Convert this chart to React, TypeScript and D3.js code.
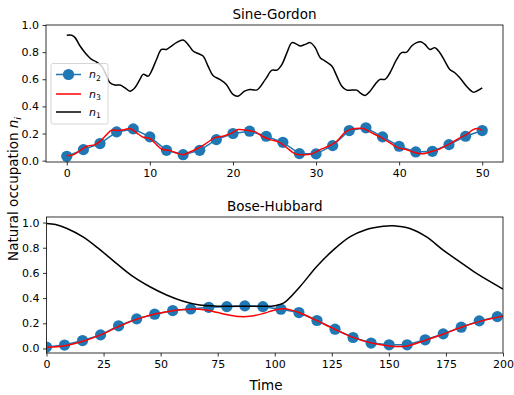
import React, { useEffect, useRef } from "react";
import * as d3 from "d3";

// ---------- Sine-Gordon data ----------
const sgMarkT = [0, 2, 4, 6, 8, 10, 12, 14, 16, 18, 20, 22, 24, 26, 28, 30, 32, 34, 36, 38, 40, 42, 44, 46, 48, 50];
const sgN2 = [0.032, 0.081, 0.126, 0.212, 0.234, 0.175, 0.076, 0.044, 0.076, 0.155, 0.2, 0.217, 0.18, 0.135, 0.052, 0.05, 0.111, 0.222, 0.242, 0.175, 0.106, 0.064, 0.069, 0.118, 0.18, 0.222];

const sgN3T = [0, 0.6, 1.6, 2.4, 3.4, 4.0, 4.8, 5.4, 6.2, 7.0, 7.6, 8.4, 9.2, 10.0, 10.8, 11.4, 12.4, 13.2, 14.0, 14.8, 15.6, 16.6, 17.8, 18.8, 19.9, 20.6, 21.7, 22.7, 23.5, 24.5, 25.5, 26.5, 27.5, 28.5, 29.5, 30.5, 31.5, 32.5, 33.5, 34.1, 34.7, 35.7, 36.7, 37.9, 38.9, 39.9, 40.9, 41.7, 42.7, 43.7, 44.7, 45.5, 46.3, 47.3, 48.1, 48.9, 49.5, 50];
const sgN3 = [0.039, 0.039, 0.074, 0.106, 0.118, 0.143, 0.192, 0.224, 0.222, 0.229, 0.237, 0.205, 0.172, 0.163, 0.118, 0.086, 0.074, 0.057, 0.044, 0.064, 0.086, 0.12, 0.168, 0.18, 0.205, 0.229, 0.224, 0.212, 0.18, 0.155, 0.138, 0.094, 0.05, 0.044, 0.05, 0.081, 0.106, 0.143, 0.21, 0.229, 0.237, 0.237, 0.205, 0.168, 0.131, 0.094, 0.081, 0.064, 0.05, 0.064, 0.081, 0.106, 0.131, 0.168, 0.192, 0.229, 0.237, 0.222];

const sgN1T = [0, 0.6, 1.0, 1.6, 2.2, 3.0, 3.6, 4.2, 4.8, 5.2, 5.8, 6.4, 7.0, 7.6, 8.2, 8.8, 9.2, 9.8, 10.2, 10.8, 11.4, 12.0, 12.6, 13.2, 14.0, 14.6, 15.2, 15.8, 16.4, 17.0, 17.6, 18.4, 19.2, 20.0, 20.6, 21.4, 22.0, 22.9, 23.9, 24.7, 25.3, 25.9, 26.5, 27.1, 27.7, 28.1, 28.7, 29.3, 29.9, 30.5, 31.1, 31.9, 32.5, 33.1, 33.7, 34.3, 34.9, 35.3, 35.9, 36.5, 37.1, 37.7, 38.3, 38.9, 39.7, 40.3, 40.9, 41.5, 42.1, 42.6, 43.1, 43.7, 44.3, 44.9, 45.5, 46.1, 46.7, 47.3, 48.1, 48.9, 49.3, 50.0];
const sgN1 = [0.924, 0.924, 0.907, 0.845, 0.796, 0.746, 0.727, 0.697, 0.623, 0.574, 0.557, 0.557, 0.537, 0.512, 0.537, 0.599, 0.636, 0.623, 0.66, 0.746, 0.82, 0.82, 0.845, 0.87, 0.889, 0.857, 0.808, 0.79, 0.771, 0.697, 0.628, 0.599, 0.562, 0.488, 0.475, 0.512, 0.525, 0.522, 0.599, 0.667, 0.667, 0.71, 0.796, 0.87, 0.857, 0.845, 0.857, 0.87, 0.833, 0.759, 0.734, 0.697, 0.623, 0.549, 0.52, 0.52, 0.52, 0.5, 0.48, 0.512, 0.562, 0.599, 0.599, 0.648, 0.746, 0.796, 0.8, 0.845, 0.87, 0.877, 0.857, 0.82, 0.833, 0.796, 0.734, 0.672, 0.648, 0.611, 0.549, 0.505, 0.512, 0.537];

// ---------- Bose-Hubbard data ----------
const bhMarkT = [0, 7.9, 15.8, 23.7, 31.6, 39.5, 47.4, 55.3, 63.2, 71.1, 79.0, 86.9, 94.8, 102.7, 110.6, 118.5, 126.4, 134.3, 142.2, 150.1, 158.0, 165.9, 173.8, 181.7, 189.6, 197.5];
const bhN2 = [0.011, 0.027, 0.063, 0.108, 0.18, 0.235, 0.272, 0.301, 0.314, 0.327, 0.332, 0.338, 0.332, 0.312, 0.285, 0.222, 0.153, 0.087, 0.043, 0.029, 0.029, 0.069, 0.116, 0.169, 0.219, 0.253];

const bhN3T = [0, 8, 16, 24, 32, 40, 48, 56, 64, 70, 75, 80, 85, 90, 95, 100, 104, 110, 118, 126, 134, 142, 150, 154, 158, 166, 174, 182, 190, 200];
const bhN3 = [0.01, 0.022, 0.058, 0.11, 0.178, 0.235, 0.275, 0.302, 0.314, 0.305, 0.285, 0.265, 0.253, 0.258, 0.278, 0.305, 0.315, 0.29, 0.225, 0.155, 0.09, 0.045, 0.02, 0.016, 0.02, 0.065, 0.115, 0.17, 0.215, 0.258];

const bhN1T = [0, 4, 8.75, 16, 23.4, 30.6, 38, 45.3, 52.6, 59.9, 67, 75, 85, 95, 100, 104, 111, 118.3, 125.6, 132.9, 140.2, 147.5, 151.9, 159.2, 166.5, 173.8, 181.1, 188.4, 200];
const bhN1 = [0.993, 0.985, 0.955, 0.886, 0.785, 0.676, 0.57, 0.49, 0.425, 0.375, 0.345, 0.336, 0.335, 0.335, 0.34, 0.362, 0.49, 0.649, 0.781, 0.886, 0.945, 0.971, 0.975, 0.953, 0.886, 0.781, 0.688, 0.596, 0.472];

// ---------- ticks ----------
const sgXTicks = [0, 10, 20, 30, 40, 50];
const bhXTicks = [0, 25, 50, 75, 100, 125, 150, 175, 200];
const yTicks = [0, 0.2, 0.4, 0.6, 0.8, 1.0];

const FONT = "DejaVu Sans, sans-serif";
const BLUE = "#1f77b4";

type Panel = {
  title: string;
  top: number;
  bottom: number;
  left: number;
  right: number;
  xDomain: [number, number];
  yDomain: [number, number];
  xTicks: number[];
  markT: number[];
  n2: number[];
  n3T: number[];
  n3: number[];
  n1T: number[];
  n1: number[];
  titleY: number;
};

export default function App() {
  const ref = useRef<SVGSVGElement>(null);

  useEffect(() => {
    const svg = d3.select(ref.current);
    svg.selectAll("*").remove();

    const panels: Panel[] = [
      {
        title: "Sine-Gordon", top: 25, bottom: 162, left: 46, right: 503,
        xDomain: [-2.5, 52.5], yDomain: [-0.01, 1.0], xTicks: sgXTicks,
        markT: sgMarkT, n2: sgN2, n3T: sgN3T, n3: sgN3, n1T: sgN1T, n1: sgN1, titleY: 19,
      },
      {
        title: "Bose-Hubbard", top: 217, bottom: 353, left: 46.5, right: 503,
        xDomain: [0, 200], yDomain: [-0.036, 1.044], xTicks: bhXTicks,
        markT: bhMarkT, n2: bhN2, n3T: bhN3T, n3: bhN3, n1T: bhN1T, n1: bhN1, titleY: 211,
      },
    ];

    panels.forEach((p, pi) => {
      const x = d3.scaleLinear().domain(p.xDomain).range([p.left, p.right]);
      const y = d3.scaleLinear().domain(p.yDomain).range([p.bottom, p.top]);
      const g = svg.append("g");
      const clipId = "clip" + pi;
      svg.append("clipPath").attr("id", clipId).append("rect")
        .attr("x", p.left).attr("y", p.top).attr("width", p.right - p.left).attr("height", p.bottom - p.top);

      const plot = g.append("g").attr("clip-path", `url(#${clipId})`);

      const lineMark = d3.line<number>().x((_, i) => x(p.markT[i])).y((d) => y(d));
      plot.append("path").datum(p.n2).attr("d", lineMark).attr("fill", "none")
        .attr("stroke", BLUE).attr("stroke-width", 1.5);
      plot.selectAll("circle.m").data(p.n2).enter().append("circle")
        .attr("cx", (_, i) => x(p.markT[i])).attr("cy", (d) => y(d)).attr("r", 5.6)
        .attr("fill", BLUE);

      const l3 = d3.line<number>().x((_, i) => x(p.n3T[i])).y((d) => y(d)).curve(d3.curveCatmullRom.alpha(0.5));
      plot.append("path").datum(p.n3).attr("d", l3).attr("fill", "none")
        .attr("stroke", "#ff0000").attr("stroke-width", 1.5);

      const l1 = d3.line<number>().x((_, i) => x(p.n1T[i])).y((d) => y(d)).curve(d3.curveCatmullRom.alpha(0.5));
      plot.append("path").datum(p.n1).attr("d", l1).attr("fill", "none")
        .attr("stroke", "#000").attr("stroke-width", 1.5);

      // axes
      const xAxis = d3.axisBottom(x).tickValues(p.xTicks).tickSizeInner(3.5).tickSizeOuter(0).tickPadding(3.5)
        .tickFormat((d) => d3.format("d")(d as number));
      const gx = g.append("g").attr("transform", `translate(0,${p.bottom})`).call(xAxis);
      const yAxis = d3.axisLeft(y).tickValues(yTicks).tickSizeInner(3.5).tickSizeOuter(0).tickPadding(3.5)
        .tickFormat((d) => d3.format(".1f")(d as number));
      const gy = g.append("g").attr("transform", `translate(${p.left},0)`).call(yAxis);
      [gx, gy].forEach((ax) => {
        ax.select(".domain").remove();
        ax.selectAll("text").attr("font-family", FONT).attr("font-size", 11).attr("fill", "#000");
        ax.selectAll("line").attr("stroke", "#000").attr("stroke-width", 0.8);
      });

      g.append("rect").attr("x", p.left).attr("y", p.top).attr("width", p.right - p.left)
        .attr("height", p.bottom - p.top).attr("fill", "none").attr("stroke", "#000").attr("stroke-width", 0.8);

      g.append("text").attr("x", (p.left + p.right) / 2).attr("y", p.titleY).attr("text-anchor", "middle")
        .attr("font-family", FONT).attr("font-size", 13.5).attr("fill", "#000").text(p.title);
    });

    // legend
    const lg = svg.append("g");
    lg.append("rect").attr("x", 51).attr("y", 63.5).attr("width", 57).attr("height", 60.5).attr("rx", 2)
      .attr("fill", "#fff").attr("fill-opacity", 0.8).attr("stroke", "#cccccc").attr("stroke-width", 0.8);
    const entries = [
      { color: BLUE, sub: "2", marker: true, yy: 74.5 },
      { color: "#ff0000", sub: "3", marker: false, yy: 94 },
      { color: "#000", sub: "1", marker: false, yy: 112 },
    ];
    entries.forEach((e) => {
      lg.append("line").attr("x1", 56).attr("x2", 81).attr("y1", e.yy).attr("y2", e.yy)
        .attr("stroke", e.color).attr("stroke-width", 1.5);
      if (e.marker) lg.append("circle").attr("cx", 68.5).attr("cy", e.yy).attr("r", 5.6).attr("fill", e.color);
      const t = lg.append("text").attr("x", 89).attr("y", e.yy + 3.5).attr("font-family", FONT)
        .attr("font-size", 11).attr("fill", "#000");
      t.append("tspan").attr("font-style", "italic").text("n");
      t.append("tspan").attr("font-size", 7.7).attr("dy", 2.5).text(e.sub);
    });

    // axis labels
    const yl = svg.append("text").attr("transform", "translate(18,189) rotate(-90)").attr("text-anchor", "middle")
      .attr("font-family", FONT).attr("font-size", 13.5).attr("fill", "#000");
    yl.append("tspan").text("Natural occupation ");
    yl.append("tspan").attr("font-style", "italic").text("n");
    yl.append("tspan").attr("font-size", 9.5).attr("dy", 3).attr("font-style", "italic").text("i");

    svg.append("text").attr("x", 266).attr("y", 390).attr("text-anchor", "middle")
      .attr("font-family", FONT).attr("font-size", 13.5).attr("fill", "#000").text("Time");
  }, []);

  return (
    <svg ref={ref} width={514} height={395}
      style={{ position: "absolute", left: 0, top: 0, background: "#fff" }} />
  );
}
